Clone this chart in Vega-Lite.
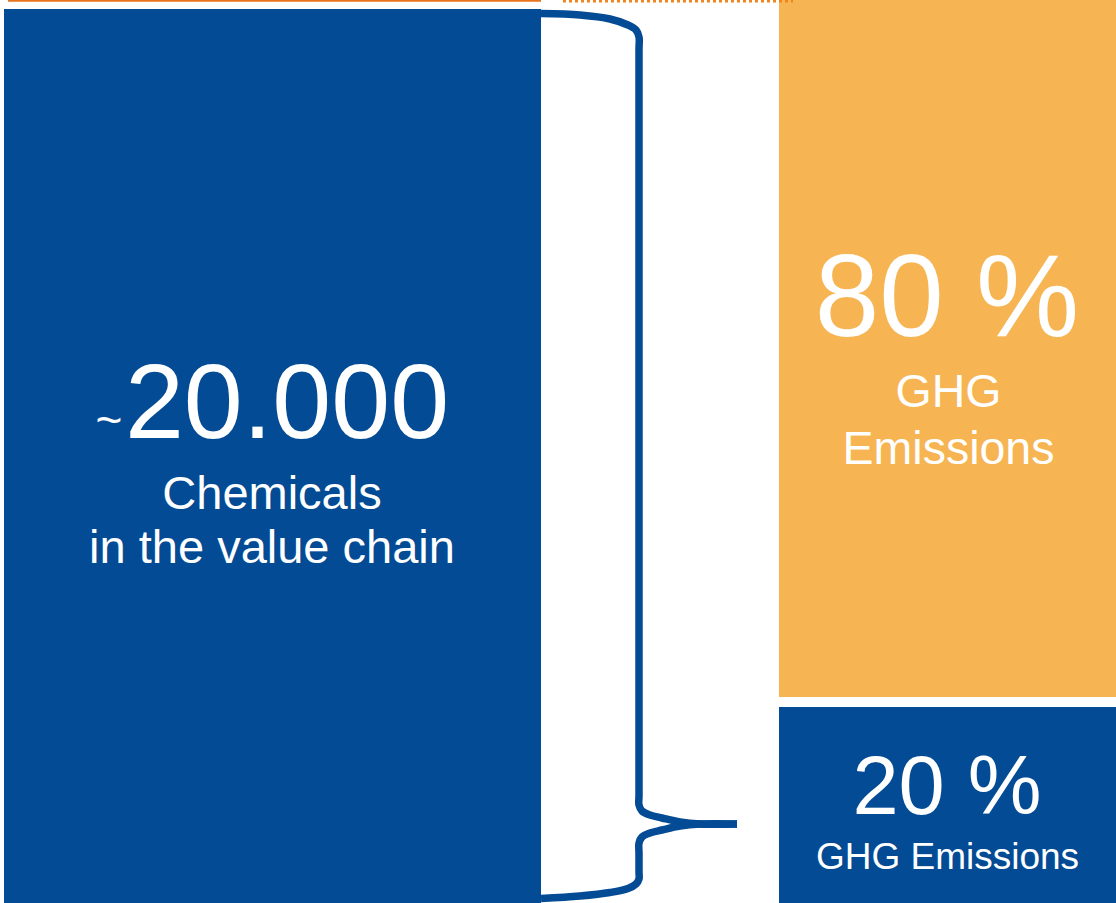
{
  "$schema": "https://vega.github.io/schema/vega-lite/v6.json",
  "width": 1116,
  "height": 903,
  "autosize": {"type": "none"},
  "padding": 0,
  "background": "white",
  "config": {"view": {"stroke": null}, "font": "Liberation Sans"},
  "layer": [
    {
      "data": {"values": [
        {"group": "Chemicals in the value chain", "x0": 4, "x1": 541, "y0": 9, "y1": 903},
        {"group": "80 % GHG Emissions", "x0": 779, "x1": 1116, "y0": 0, "y1": 697},
        {"group": "20 % GHG Emissions", "x0": 779, "x1": 1116, "y0": 707, "y1": 903}
      ]},
      "mark": {"type": "rect"},
      "encoding": {
        "x": {"field": "x0", "type": "quantitative", "scale": {"domain": [0, 1116], "nice": false, "zero": false}, "axis": null},
        "x2": {"field": "x1"},
        "y": {"field": "y0", "type": "quantitative", "scale": {"domain": [0, 903], "nice": false, "zero": false, "reverse": true}, "axis": null},
        "y2": {"field": "y1"},
        "color": {"field": "group", "type": "nominal", "legend": null,
          "scale": {"domain": ["Chemicals in the value chain", "80 % GHG Emissions", "20 % GHG Emissions"], "range": ["#034B94", "#F6B552", "#034B94"]}}
      }
    },
    {
      "data": {"values": [{"x0": 8, "x1": 541, "y": 0.8}]},
      "mark": {"type": "rule", "color": "#E8731A", "strokeWidth": 2},
      "encoding": {
        "x": {"field": "x0", "type": "quantitative"},
        "x2": {"field": "x1"},
        "y": {"field": "y", "type": "quantitative"}
      }
    },
    {
      "data": {"values": [{"x0": 563, "x1": 793, "y": 1}]},
      "mark": {"type": "rule", "color": "#EF851C", "strokeWidth": 3, "strokeDash": [3, 3]},
      "encoding": {
        "x": {"field": "x0", "type": "quantitative"},
        "x2": {"field": "x1"},
        "y": {"field": "y", "type": "quantitative"}
      }
    },
    {
      "data": {"values": [
        {"part": "upper", "i": 1, "x": 541, "y": 13.5},
        {"part": "upper", "i": 2, "x": 580, "y": 15},
        {"part": "upper", "i": 3, "x": 610, "y": 19},
        {"part": "upper", "i": 4, "x": 628, "y": 25},
        {"part": "upper", "i": 5, "x": 636, "y": 30},
        {"part": "upper", "i": 6, "x": 639, "y": 37},
        {"part": "upper", "i": 7, "x": 639, "y": 50},
        {"part": "upper", "i": 8, "x": 639, "y": 795},
        {"part": "upper", "i": 9, "x": 639, "y": 805},
        {"part": "upper", "i": 10, "x": 642, "y": 811},
        {"part": "upper", "i": 11, "x": 650, "y": 815},
        {"part": "upper", "i": 12, "x": 662, "y": 818},
        {"part": "upper", "i": 13, "x": 680, "y": 822},
        {"part": "upper", "i": 14, "x": 700, "y": 824},
        {"part": "upper", "i": 15, "x": 737, "y": 824},
        {"part": "lower", "i": 1, "x": 737, "y": 824},
        {"part": "lower", "i": 2, "x": 700, "y": 824},
        {"part": "lower", "i": 3, "x": 680, "y": 826},
        {"part": "lower", "i": 4, "x": 662, "y": 830},
        {"part": "lower", "i": 5, "x": 650, "y": 833},
        {"part": "lower", "i": 6, "x": 642, "y": 837},
        {"part": "lower", "i": 7, "x": 639, "y": 843},
        {"part": "lower", "i": 8, "x": 639, "y": 853},
        {"part": "lower", "i": 9, "x": 639, "y": 872},
        {"part": "lower", "i": 10, "x": 639, "y": 879},
        {"part": "lower", "i": 11, "x": 636, "y": 884},
        {"part": "lower", "i": 12, "x": 628, "y": 888.5},
        {"part": "lower", "i": 13, "x": 610, "y": 892.5},
        {"part": "lower", "i": 14, "x": 580, "y": 896},
        {"part": "lower", "i": 15, "x": 541, "y": 898.5}
      ]},
      "mark": {"type": "line", "color": "#034B94", "strokeWidth": 7.5, "interpolate": "catmull-rom", "strokeCap": "butt"},
      "encoding": {
        "x": {"field": "x", "type": "quantitative"},
        "y": {"field": "y", "type": "quantitative"},
        "detail": {"field": "part", "type": "nominal"},
        "order": {"field": "i", "type": "quantitative"}
      }
    },
    {
      "data": {"values": [{"label": "20.000", "x": 287, "y": 438}]},
      "mark": {"type": "text", "color": "white", "fontSize": 106, "align": "center", "baseline": "alphabetic", "font": "Liberation Sans"},
      "encoding": {"x": {"field": "x", "type": "quantitative"}, "y": {"field": "y", "type": "quantitative"}, "text": {"field": "label"}}
    },
    {
      "data": {"values": [{"label": "~", "x": 109, "y": 436}]},
      "mark": {"type": "text", "color": "white", "fontSize": 46, "align": "center", "baseline": "alphabetic", "font": "Liberation Sans"},
      "encoding": {"x": {"field": "x", "type": "quantitative"}, "y": {"field": "y", "type": "quantitative"}, "text": {"field": "label"}}
    },
    {
      "data": {"values": [
        {"label": "Chemicals", "x": 272, "y": 509},
        {"label": "in the value chain", "x": 272, "y": 563}
      ]},
      "mark": {"type": "text", "color": "white", "fontSize": 47, "align": "center", "baseline": "alphabetic", "font": "Liberation Sans"},
      "encoding": {"x": {"field": "x", "type": "quantitative"}, "y": {"field": "y", "type": "quantitative"}, "text": {"field": "label"}}
    },
    {
      "data": {"values": [{"label": "80 %", "x": 947, "y": 336}]},
      "mark": {"type": "text", "color": "white", "fontSize": 116, "align": "center", "baseline": "alphabetic", "font": "Liberation Sans"},
      "encoding": {"x": {"field": "x", "type": "quantitative"}, "y": {"field": "y", "type": "quantitative"}, "text": {"field": "label"}}
    },
    {
      "data": {"values": [
        {"label": "GHG", "x": 948.5, "y": 407},
        {"label": "Emissions", "x": 948.5, "y": 464}
      ]},
      "mark": {"type": "text", "color": "white", "fontSize": 46.5, "align": "center", "baseline": "alphabetic", "font": "Liberation Sans"},
      "encoding": {"x": {"field": "x", "type": "quantitative"}, "y": {"field": "y", "type": "quantitative"}, "text": {"field": "label"}}
    },
    {
      "data": {"values": [{"label": "20 %", "x": 947, "y": 814}]},
      "mark": {"type": "text", "color": "white", "fontSize": 83, "align": "center", "baseline": "alphabetic", "font": "Liberation Sans"},
      "encoding": {"x": {"field": "x", "type": "quantitative"}, "y": {"field": "y", "type": "quantitative"}, "text": {"field": "label"}}
    },
    {
      "data": {"values": [{"label": "GHG Emissions", "x": 947.5, "y": 869}]},
      "mark": {"type": "text", "color": "white", "fontSize": 37, "align": "center", "baseline": "alphabetic", "font": "Liberation Sans"},
      "encoding": {"x": {"field": "x", "type": "quantitative"}, "y": {"field": "y", "type": "quantitative"}, "text": {"field": "label"}}
    }
  ]
}
